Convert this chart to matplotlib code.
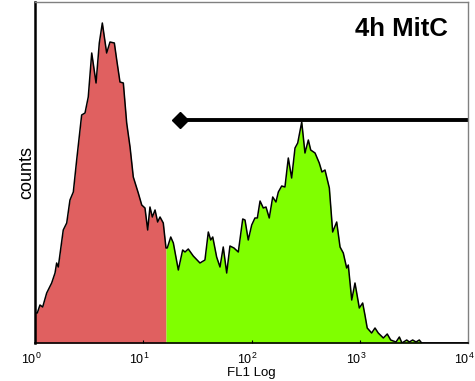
import numpy as np
import matplotlib
matplotlib.use("Agg")
import matplotlib.pyplot as plt
from matplotlib.transforms import ScaledTranslation

plt.rcParams['font.family'] = ['Liberation Sans', 'DejaVu Sans']
plt.rcParams['mathtext.fontset'] = 'custom'
plt.rcParams['mathtext.rm'] = 'Liberation Sans'

# Histogram trace: log10(FL1) channel positions and counts
fl1_log = [0.000, 0.021, 0.046, 0.071, 0.108, 0.154, 0.185, 0.200, 0.215, 0.261,
           0.293, 0.323, 0.354, 0.385, 0.431, 0.462, 0.492, 0.524, 0.564, 0.594,
           0.622, 0.662, 0.693, 0.733, 0.755, 0.785, 0.816, 0.847, 0.878, 0.908,
           0.954, 0.986, 1.016, 1.041, 1.062, 1.084, 1.109, 1.133, 1.155, 1.185,
           1.210, 1.222, 1.254, 1.278, 1.324, 1.364, 1.386, 1.416, 1.462, 1.524,
           1.570, 1.601, 1.623, 1.642, 1.678, 1.709, 1.739, 1.771, 1.801, 1.838,
           1.878, 1.919, 1.940, 1.970, 2.002, 2.032, 2.054, 2.079, 2.109, 2.134,
           2.164, 2.196, 2.226, 2.248, 2.279, 2.309, 2.340, 2.371, 2.402, 2.427,
           2.464, 2.494, 2.525, 2.547, 2.587, 2.626, 2.651, 2.679, 2.719, 2.750,
           2.787, 2.818, 2.848, 2.879, 2.894, 2.926, 2.956, 2.996, 3.027, 3.048,
           3.069, 3.110, 3.141, 3.171, 3.218, 3.254, 3.286, 3.335, 3.366, 3.390,
           3.434, 3.458, 3.489, 3.520, 3.550, 3.572, 4.000]
counts = [30, 30, 38, 36, 50, 60, 70, 80, 76, 113,
          120, 143, 151, 183, 228, 230, 246, 290, 260, 300,
          320, 290, 301, 300, 283, 261, 260, 220, 196, 166,
          150, 138, 135, 113, 136, 126, 133, 121, 126, 120,
          95, 95, 106, 100, 73, 93, 91, 94, 87, 80,
          83, 111, 103, 106, 86, 76, 96, 70, 97, 95,
          91, 124, 123, 103, 118, 125, 125, 142, 135, 136,
          125, 146, 141, 151, 157, 156, 185, 165, 195, 200,
          221, 190, 203, 193, 190, 180, 171, 173, 155, 111,
          121, 96, 90, 75, 78, 43, 60, 35, 40, 28,
          15, 10, 15, 10, 5, 9, 3, 1, 6, 0,
          3, 1, 3, 1, 3, 0, 0]

gate_log = 1.210          # red/green boundary
marker_log = [1.340, 4.0] # gate bar extent
marker_level = 223
label = "4h MitC"
xticks = [1, 10, 100, 1000, 10000]

fl1 = 10 ** np.array(fl1_log)
cnt = np.array(counts, dtype=float)
gate = 10 ** gate_log

fig = plt.figure(figsize=(4.75, 3.81), dpi=100)
ax = fig.add_axes([35/475, 1-343/381, 433/475, 341/381])

ax.fill_between(fl1, cnt, 0, where=fl1 <= gate + 1e-9, color='#e06060', lw=0, interpolate=True)
ax.fill_between(fl1, cnt, 0, where=fl1 >= gate - 1e-9, color='#80ff00', lw=0, interpolate=True)
ax.plot(fl1, cnt, color='black', lw=1.1)

mx = 10 ** np.array(marker_log)
ax.plot(mx, [marker_level, marker_level], color='black', lw=2.8, solid_capstyle='butt')
ax.plot([mx[0]], [marker_level], marker='D', color='black', ms=8.5)

ax.set_xscale('log')
ax.set_xlim(1, 1e4)
ax.set_ylim(0, 341)
ax.set_yticks([])
ax.set_xticks(xticks)
ax.xaxis.set_minor_locator(matplotlib.ticker.NullLocator())
ax.tick_params(axis='x', length=2, direction='in', labelsize=9, pad=6)
shift = ScaledTranslation(-4/100, 0, fig.dpi_scale_trans)
for t in ax.xaxis.get_major_ticks():
    t.label1.set_transform(t.label1.get_transform() + shift)

ax.set_xlabel('FL1 Log', fontsize=9.5, labelpad=0)
ax.set_ylabel('counts', fontsize=13, labelpad=0)

for s in ['top', 'right']:
    ax.spines[s].set_color('#808080')
    ax.spines[s].set_linewidth(1.0)
ax.spines['left'].set_color('black')
ax.spines['left'].set_linewidth(1.8)
ax.spines['bottom'].set_color('black')
ax.spines['bottom'].set_linewidth(1.2)

ax.text(0.954, 0.955, label, transform=ax.transAxes, ha='right', va='top',
        fontsize=18.5, fontweight='bold')

fig.savefig('out.png', dpi=100)
